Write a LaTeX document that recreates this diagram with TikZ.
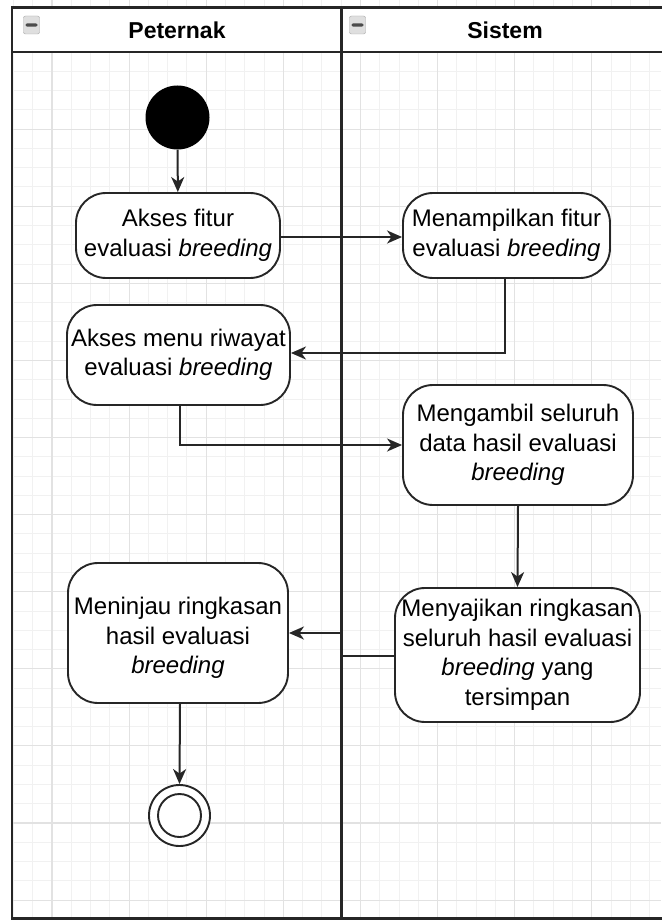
\documentclass[tikz,border=0pt]{standalone}
\usepackage{fontspec}
\setmainfont{Liberation Sans}
\usetikzlibrary{arrows.meta}
\definecolor{linec}{HTML}{262626}
\definecolor{minorg}{HTML}{F1F1F1}
\definecolor{majorg}{HTML}{E2E2E2}
\tikzset{
  actbox/.style={draw=linec, line width=1.9pt, fill=white, rounded corners=30pt,
    align=center, inner sep=2pt, font=\fontsize{24}{29.5}\selectfont},
  flow/.style={draw=linec, line width=2pt, -{Stealth[length=15pt,width=13pt,inset=4.5pt]}},
  lane/.style={draw=linec, line width=2.2pt},
  lanetitle/.style={font=\fontsize{23}{27}\selectfont\bfseries, text=black},
  icon/.style={draw=gray!70, fill=gray!25, rounded corners=2pt, minimum width=16pt,
    minimum height=18pt, inner sep=0pt,
    path picture={\fill[black!70] ([xshift=2pt,yshift=-1.7pt]path picture bounding box.west)
      rectangle ([xshift=-2pt,yshift=1.7pt]path picture bounding box.east);}},
  minorgrid/.style={draw=minorg, line width=0.9pt},
  majorgrid/.style={draw=majorg, line width=1.1pt},
}
\begin{document}
\begin{tikzpicture}[x=1pt,y=-1pt]
\useasboundingbox (0,0) rectangle (661,920);
\fill[white] (0,0) rectangle (661,920);
% grid
\begin{scope}
\clip (12,0) rectangle (661,920);
\foreach \i in {-3,...,32}{
  \pgfmathsetmacro{\gx}{52+19.275*\i}
  \draw[minorgrid] (\gx,0) -- (\gx,920);
}
\foreach \i in {-3,...,46}{
  \pgfmathsetmacro{\gy}{52+19.275*\i}
  \draw[minorgrid] (0,\gy) -- (661,\gy);
}
\foreach \i in {-1,...,8}{
  \pgfmathsetmacro{\gx}{52+77.1*\i}
  \draw[majorgrid] (\gx,0) -- (\gx,920);
}
\foreach \i in {-1,...,11}{
  \pgfmathsetmacro{\gy}{52+77.1*\i}
  \draw[majorgrid] (0,\gy) -- (661,\gy);
}
\end{scope}
% header
\fill[white] (12,7.5) rectangle (661,52);
\draw[lane] (665,7.5) -- (12,7.5) -- (12,918.5) -- (665,918.5);
\draw[lane] (12,52) -- (665,52);
\draw[lane] (341.5,7.5) -- (341.5,918.5);
\node[icon] (icon1) at (31.5,25) {};
\node[icon] (icon2) at (357.5,25) {};
\node[lanetitle] (t1) at (177,30) {Peternak};
\node[lanetitle] (t2) at (505,30) {Sistem};

% nodes
\node[circle, fill=black, minimum size=64pt, inner sep=0pt] (start) at (177.5,117.5) {};
\node[actbox, minimum width=204pt, minimum height=85pt] (b1) at (178,235.5)
  {Akses fitur\\evaluasi \textit{breeding}};
\node[actbox, minimum width=207pt, minimum height=85pt] (b2) at (506.5,235.5)
  {Menampilkan fitur\\evaluasi \textit{breeding}};
\node[actbox, minimum width=223pt, minimum height=100pt] (b3) at (178.5,355)
  {Akses menu riwayat\\evaluasi \textit{breeding}};
\node[actbox, minimum width=230pt, minimum height=120pt] (b4) at (518,445)
  {Mengambil seluruh\\data hasil evaluasi\\\textit{breeding}};
\node[actbox, minimum width=245pt, minimum height=134pt] (b5) at (517.5,655)
  {Menyajikan ringkasan\\seluruh hasil evaluasi\\\textit{breeding} yang\\tersimpan};
\node[actbox, minimum width=220pt, minimum height=140pt] (b6) at (178,633)
  {\rule{0pt}{27pt}Meninjau ringkasan\\hasil evaluasi\\\textit{breeding}};
\node[circle, draw=linec, line width=1.9pt, fill=white, minimum size=61pt, inner sep=0pt] (end) at (179.5,815.5) {};
\node[circle, draw=linec, line width=1.9pt, minimum size=43pt, inner sep=0pt] (endin) at (end.center) {};

\coordinate (j1) at (341.5,656);
\coordinate (j2) at (341.5,633);

% connectors
\draw[flow] (start) -- (b1);
\draw[flow] (b1.east |- 0,237) -- (b2.west |- 0,237);
\draw[flow] (b2.south -| 505,0) |- (b3.east |- 0,353);
\draw[flow] (b3.south -| 180,0) |- (b4.west |- 0,445);
\draw[flow] (b4.south) -- (b5.north);
\draw[flow] (b5.west |- j1) -- (j1) -- (j2) -- (b6.east |- j2);
\draw[flow] (b6.south -| 180,0) -- (end.north);
\end{tikzpicture}
\end{document}
